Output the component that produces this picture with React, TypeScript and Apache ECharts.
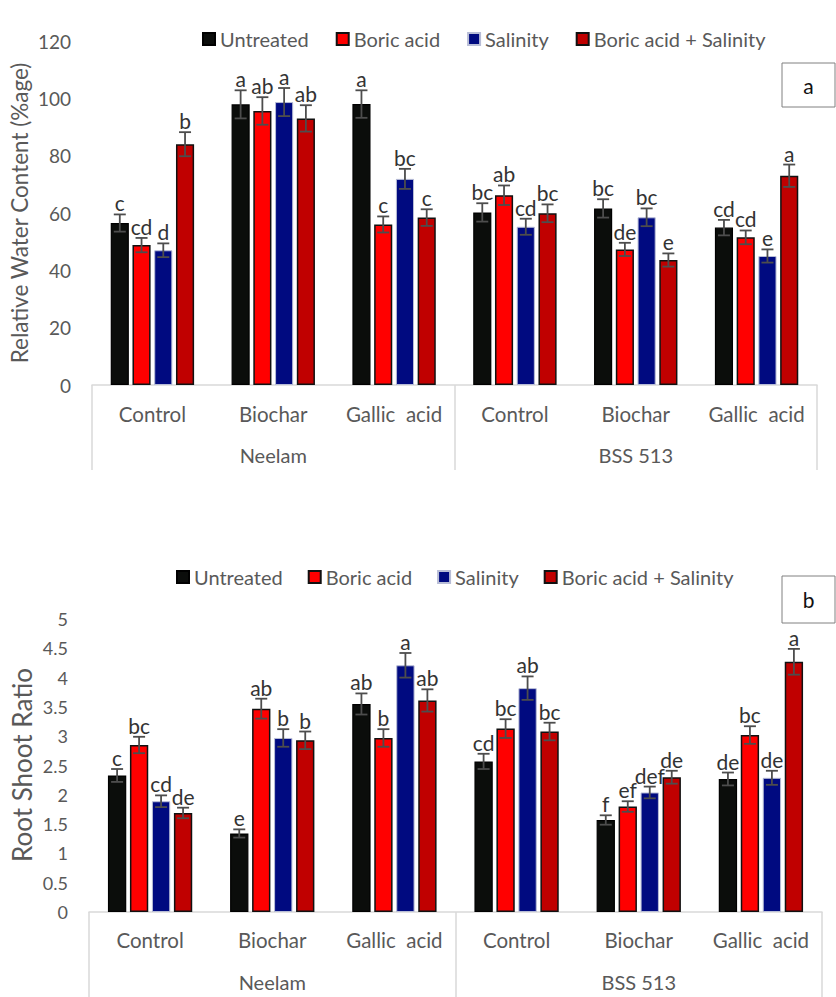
import React, { useEffect, useRef } from 'react';
import * as echarts from 'echarts';

const categories = ['Control', 'Biochar', 'Gallic  acid', 'Control', 'Biochar', 'Gallic  acid'];
const groups = ['Neelam', 'BSS 513'];
const treatments = ['Untreated', 'Boric acid', 'Salinity', 'Boric acid + Salinity'];

// Chart a: Relative Water Content (%age)
const untreatedA = [56.5, 97.9, 98.0, 60.2, 61.6, 54.9];
const boricA = [48.8, 95.6, 56.0, 66.2, 47.3, 51.5];
const salinityA = [47.0, 98.7, 71.9, 55.2, 58.5, 45.0];
const boricSalA = [84.0, 93.0, 58.4, 59.9, 43.6, 73.0];
const untreatedAErr = [3.0, 4.9, 4.8, 3.2, 3.2, 2.7];
const boricAErr = [2.5, 4.8, 2.8, 3.4, 2.3, 2.4];
const salinityAErr = [2.4, 4.9, 3.5, 2.8, 3.1, 2.3];
const boricSalAErr = [4.2, 4.6, 2.9, 3.1, 2.3, 3.9];
const untreatedALetters = ['c', 'a', 'a', 'bc', 'bc', 'cd'];
const boricALetters = ['cd', 'ab', 'c', 'ab', 'de', 'cd'];
const salinityALetters = ['d', 'a', 'bc', 'cd', 'bc', 'e'];
const boricSalALetters = ['b', 'ab', 'c', 'bc', 'e', 'a'];
const yTicksA = { min: 0, max: 120, interval: 20 };

// Chart b: Root Shoot Ratio
const untreatedB = [2.33, 1.34, 3.55, 2.57, 1.57, 2.27];
const boricB = [2.85, 3.47, 2.97, 3.13, 1.8, 3.02];
const salinityB = [1.89, 2.97, 4.21, 3.82, 2.04, 2.29];
const boricSalB = [1.69, 2.93, 3.61, 3.08, 2.3, 4.27];
const untreatedBErr = [0.11, 0.07, 0.18, 0.13, 0.08, 0.11];
const boricBErr = [0.14, 0.17, 0.15, 0.16, 0.09, 0.15];
const salinityBErr = [0.1, 0.15, 0.21, 0.2, 0.1, 0.12];
const boricSalBErr = [0.09, 0.15, 0.19, 0.15, 0.11, 0.22];
const untreatedBLetters = ['c', 'e', 'ab', 'cd', 'f', 'de'];
const boricBLetters = ['bc', 'ab', 'b', 'bc', 'ef', 'bc'];
const salinityBLetters = ['cd', 'b', 'a', 'ab', 'def', 'de'];
const boricSalBLetters = ['de', 'b', 'ab', 'bc', 'de', 'a'];
const yTicksB = { min: 0, max: 5, interval: 0.5 };

const FONT = 'Lato, "Open Sans", sans-serif';
const GRAY = '#595959';
const LINE = '#d9d9d9';
const BAR_CAT_GAP = 0.31;
const BAR_GAP = 0.2;

const barStyles = [
  { color: '#0b0d0b', borderColor: '#000000', borderWidth: 1.2 },
  { color: '#ff0000', borderColor: '#111111', borderWidth: 1.5 },
  { color: '#000a80', borderColor: '#b8bdd6', borderWidth: 1 },
  { color: '#c00000', borderColor: '#111111', borderWidth: 1.5 },
];

type Item = { cat: number; t: number; val: number; err: number; letter: string };

function buildItems(vals: number[][], errs: number[][], letters: string[][]): Item[] {
  const items: Item[] = [];
  vals.forEach((arr, t) => {
    arr.forEach((v, c) => {
      items.push({ cat: c, t, val: v, err: errs[t][c], letter: letters[t][c] });
    });
  });
  return items;
}

function errorSeries(items: Item[], xAxisIndex: number, yAxisIndex: number, name: string) {
  return {
    type: 'custom',
    name,
    xAxisIndex,
    yAxisIndex,
    z: 5,
    silent: true,
    data: items.map((it) => [it.cat, it.val]),
    renderItem: (params: any, api: any) => {
      const it = items[params.dataIndex];
      const center = api.coord([it.cat, it.val]);
      const band = api.size([1, 0])[0];
      const usable = band * (1 - BAR_CAT_GAP);
      const w = usable / (4 + 3 * BAR_GAP);
      const x = center[0] - usable / 2 + it.t * w * (1 + BAR_GAP) + w / 2;
      const yTop = api.coord([it.cat, it.val + it.err])[1];
      const yBot = api.coord([it.cat, it.val - it.err])[1];
      const cap = 6;
      const ls = { stroke: '#4d4d4d', lineWidth: 1.8 };
      return {
        type: 'group',
        children: [
          { type: 'line', shape: { x1: x, y1: yTop, x2: x, y2: yBot }, style: ls },
          { type: 'line', shape: { x1: x - cap, y1: yTop, x2: x + cap, y2: yTop }, style: ls },
          { type: 'line', shape: { x1: x - cap, y1: yBot, x2: x + cap, y2: yBot }, style: ls },
          {
            type: 'text',
            x,
            y: yTop - 1,
            style: {
              text: it.letter,
              align: 'center',
              verticalAlign: 'bottom',
              fontSize: 21,
              fontFamily: FONT,
              fill: '#333333',
            },
          },
        ],
      };
    },
  };
}

export default function App() {
  const ref = useRef<HTMLDivElement>(null);
  useEffect(() => {
    if (!ref.current) return;
    const chart = echarts.init(ref.current, null, { renderer: 'svg' });

    const valsA = [untreatedA, boricA, salinityA, boricSalA];
    const valsB = [untreatedB, boricB, salinityB, boricSalB];
    const itemsA = buildItems(
      valsA,
      [untreatedAErr, boricAErr, salinityAErr, boricSalAErr],
      [untreatedALetters, boricALetters, salinityALetters, boricSalALetters]
    );
    const itemsB = buildItems(
      valsB,
      [untreatedBErr, boricBErr, salinityBErr, boricSalBErr],
      [untreatedBLetters, boricBLetters, salinityBLetters, boricSalBLetters]
    );

    const catAxis = (gridIndex: number, margin: number) => ({
      gridIndex,
      type: 'category',
      data: categories,
      axisLine: { show: true, lineStyle: { color: LINE, width: 1.5 } },
      axisTick: { show: false },
      axisLabel: { margin, fontSize: 20.5, fontFamily: FONT, color: GRAY, interval: 0 },
      splitLine: { show: false },
    });
    const groupAxis = (gridIndex: number, margin: number, tickLen: number) => ({
      gridIndex,
      type: 'category',
      position: 'bottom',
      data: groups,
      axisLine: { show: false },
      axisTick: { show: true, length: tickLen, lineStyle: { color: LINE, width: 1.5 } },
      axisLabel: { margin, fontSize: 20, fontFamily: FONT, color: GRAY, interval: 0 },
      splitLine: { show: false },
    });
    const valAxis = (gridIndex: number, t: { min: number; max: number; interval: number }, fs: number) => ({
      gridIndex,
      type: 'value',
      min: t.min,
      max: t.max,
      interval: t.interval,
      axisLine: { show: false },
      axisTick: { show: false },
      splitLine: { show: false },
      axisLabel: { margin: 21, fontSize: fs, fontFamily: FONT, color: GRAY },
    });

    const barSeries: any[] = [];
    valsA.forEach((arr, t) => {
      barSeries.push({
        type: 'bar',
        name: treatments[t],
        xAxisIndex: 0,
        yAxisIndex: 0,
        data: arr,
        barCategoryGap: '31%',
        barGap: '20%',
        itemStyle: barStyles[t],
      });
    });
    valsB.forEach((arr, t) => {
      barSeries.push({
        type: 'bar',
        name: treatments[t],
        xAxisIndex: 2,
        yAxisIndex: 1,
        data: arr,
        barCategoryGap: '31%',
        barGap: '20%',
        itemStyle: barStyles[t],
      });
    });

    const legendBase = {
      data: treatments,
      icon: 'rect',
      itemWidth: 12,
      itemHeight: 12,
      selectedMode: false,
      textStyle: { fontSize: 20, fontFamily: FONT, color: GRAY },
    };

    chart.setOption({
      animation: false,
      backgroundColor: '#ffffff',
      grid: [
        { left: 92, top: 41, width: 725, height: 344 },
        { left: 89, top: 619, width: 733, height: 293 },
      ],
      legend: [
        { ...legendBase, left: 197, top: 24, itemGap: 27 },
        { ...legendBase, left: 171, top: 562, itemGap: 25 },
      ],
      xAxis: [catAxis(0, 18), groupAxis(0, 60, 85), catAxis(1, 17), groupAxis(1, 60, 90)],
      yAxis: [valAxis(0, yTicksA, 19), valAxis(1, yTicksB, 18)],
      series: [...barSeries, errorSeries(itemsA, 0, 0, 'errA'), errorSeries(itemsB, 2, 1, 'errB')],
      graphic: [
        {
          type: 'text',
          x: 19,
          y: 213,
          rotation: Math.PI / 2,
          style: {
            text: 'Relative Water Content (%age)',
            align: 'center',
            verticalAlign: 'middle',
            fontSize: 22.5,
            fontFamily: FONT,
            fill: GRAY,
          },
        },
        {
          type: 'text',
          x: 22,
          y: 765,
          rotation: Math.PI / 2,
          style: {
            text: 'Root Shoot Ratio',
            align: 'center',
            verticalAlign: 'middle',
            fontSize: 26,
            fontFamily: FONT,
            fill: GRAY,
          },
        },
        {
          type: 'rect',
          shape: { x: 782, y: 63, width: 53, height: 44 },
          style: { fill: '#ffffff', stroke: '#808080', lineWidth: 1 },
        },
        {
          type: 'text',
          x: 808.5,
          y: 85,
          style: { text: 'a', align: 'center', verticalAlign: 'middle', fontSize: 21, fontFamily: FONT, fill: '#111111' },
        },
        {
          type: 'rect',
          shape: { x: 782, y: 576, width: 53, height: 47 },
          style: { fill: '#ffffff', stroke: '#808080', lineWidth: 1 },
        },
        {
          type: 'text',
          x: 808.5,
          y: 599,
          style: { text: 'b', align: 'center', verticalAlign: 'middle', fontSize: 21, fontFamily: FONT, fill: '#111111' },
        },
      ],
    });
    return () => chart.dispose();
  }, []);
  return (
    <div
      ref={ref}
      style={{ position: 'absolute', left: 0, top: 0, width: 836, height: 997, background: '#fff' }}
    />
  );
}
